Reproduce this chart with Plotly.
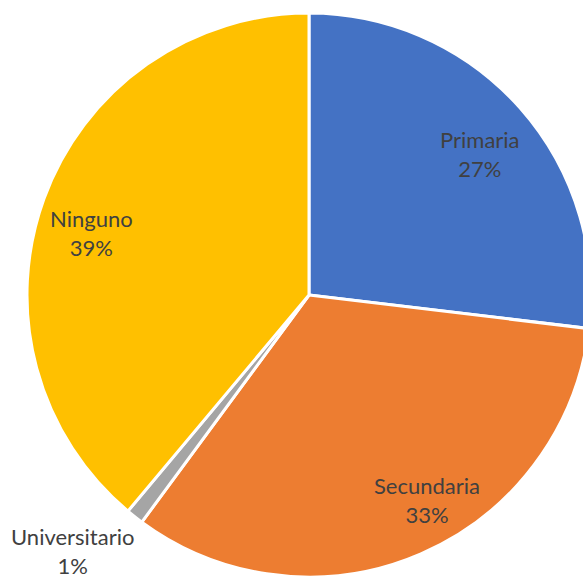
import plotly.graph_objects as go

labels = ['Primaria', 'Secundaria', 'Universitario', 'Ninguno']
values = [26.9, 33.2, 1.0, 38.9]
colors = ['#4472C4', '#ED7D31', '#A5A5A5', '#FFC000']

total = sum(values)
pct = [f"{round(v / total * 100)}%" for v in values]

# the pie runs slightly past the right edge of the window, like the original
L, T, SIZE = 27, 13, 564
W, H = L + SIZE, 582

fig = go.Figure(data=[go.Pie(
    labels=labels, values=values, sort=False, direction='clockwise', rotation=0,
    textinfo='none',
    marker=dict(colors=colors, line=dict(color='white', width=3)),
    hoverinfo='label+percent',
)])

# label centres in screen pixels (Excel "best fit" placement)
label_pos = {
    'Primaria': (480, 154),
    'Secundaria': (427, 500),
    'Universitario': (72, 551),
    'Ninguno': (91, 233),
}
for lab, p in zip(labels, pct):
    sx, sy = label_pos[lab]
    fig.add_annotation(
        text=f"{lab}<br>{p}",
        x=(sx - L) / SIZE, y=1 - (sy - T) / SIZE,
        xref='paper', yref='paper', showarrow=False,
        xanchor='center', yanchor='middle',
        font=dict(family='Lato, Open Sans, sans-serif', size=22, color='#404040'),
    )

fig.update_layout(
    width=W, height=H,
    margin=dict(l=L, r=0, t=T, b=H - T - SIZE),
    showlegend=False,
    paper_bgcolor='white',
)
fig.write_html("out.html", config={'displayModeBar': False},
               post_script="document.body.style.margin='0';document.body.style.overflow='hidden';")
